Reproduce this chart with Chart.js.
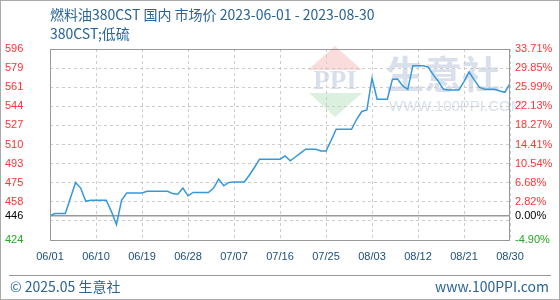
<!DOCTYPE html>
<html lang="zh-CN">
<head>
<meta charset="UTF-8">
<title>燃料油380CST 国内 市场价</title>
<script src="https://cdn.jsdelivr.net/npm/chart.js"></script>
<style>
  html, body { margin: 0; padding: 0; background: #fff; }
  #wrap { width: 560px; height: 300px; }
</style>
</head>
<body>
<div id="wrap"><canvas id="priceChart" width="560" height="300"></canvas></div>
<script>
// chart texts
const TITLE = '燃料油380CST 国内 市场价 2023-06-01 - 2023-08-30';
const SUBTITLE = '380CST;低硫';
const FOOT_LEFT = '© 2025.05 生意社';
const FOOT_RIGHT = 'www.100PPI.com';

// one label per day, 06/01 .. 08/30
const dates = [
  '06/01','06/02','06/03','06/04','06/05','06/06','06/07','06/08','06/09','06/10',
  '06/11','06/12','06/13','06/14','06/15','06/16','06/17','06/18','06/19','06/20',
  '06/21','06/22','06/23','06/24','06/25','06/26','06/27','06/28','06/29','06/30',
  '07/01','07/02','07/03','07/04','07/05','07/06','07/07','07/08','07/09','07/10',
  '07/11','07/12','07/13','07/14','07/15','07/16','07/17','07/18','07/19','07/20',
  '07/21','07/22','07/23','07/24','07/25','07/26','07/27','07/28','07/29','07/30',
  '07/31','08/01','08/02','08/03','08/04','08/05','08/06','08/07','08/08','08/09',
  '08/10','08/11','08/12','08/13','08/14','08/15','08/16','08/17','08/18','08/19',
  '08/20','08/21','08/22','08/23','08/24','08/25','08/26','08/27','08/28','08/29',
  '08/30'
];
const tickDates = ['06/01','06/10','06/19','06/28','07/07','07/16','07/25','08/03','08/12','08/21','08/30'];

// price (yuan/ton)
const prices = [
  446, 448, 448, 448, 462, 476, 471, 459, 460, 460,
  460, 460, 450, 438, 460, 466.5, 466.5, 466.5, 466.5, 468,
  468, 468, 468, 468, 466, 465.5, 471, 464, 467, 467,
  467, 467, 471, 479, 473, 476, 476.5, 476.5, 476.5, 482.5,
  489.5, 497, 497, 497, 497, 497, 500, 495.5, 499, 502.5,
  506, 506, 506, 504.4, 504.4, 514, 524, 524, 524, 524,
  533, 540, 541.4, 570, 551, 551, 551, 569, 569.3, 563,
  560, 581.3, 581.3, 581.3, 580, 573, 567, 560, 559.4, 559.4,
  559.4, 567, 575.6, 568.5, 562, 560, 560, 560, 558.5, 557.3,
  565.4
];

// y axis: base price and percent steps
const BASE = 446;
const pctTicks = [-4.90, -1.04, 0.00, 2.82, 6.68, 10.54, 14.41, 18.27, 22.13, 25.99, 29.85, 33.71];
const yTicks = pctTicks.map(p => BASE * (1 + p / 100));

function tickColor(v) {
  if (Math.abs(v - BASE) < 0.01) return '#000000';
  return v > BASE ? '#ff3333' : '#22aa22';
}

const frame = {
  id: 'frame',
  beforeDraw(chart) {
    const ctx = chart.ctx;
    ctx.save();
    ctx.fillStyle = '#ffffff';
    ctx.fillRect(0, 0, chart.width, chart.height);

    // watermark logo
    ctx.fillStyle = '#fadcdc';
    ctx.beginPath();
    ctx.moveTo(335, 46); ctx.lineTo(362, 70); ctx.lineTo(308, 70);
    ctx.closePath(); ctx.fill();
    ctx.fillStyle = '#dbf0de';
    ctx.beginPath();
    ctx.moveTo(309, 93); ctx.lineTo(362, 93); ctx.lineTo(335, 117);
    ctx.closePath(); ctx.fill();
    ctx.fillStyle = '#d9e0ec';
    ctx.font = 'bold 27px "Liberation Serif"';
    ctx.textAlign = 'center';
    ctx.textBaseline = 'middle';
    ctx.fillText('PPI', 335, 82);
    ctx.font = 'bold 38px "Noto Sans CJK SC"';
    ctx.textAlign = 'left';
    ctx.fillText('生意社', 386, 74);
    ctx.font = '15px "Liberation Sans"';
    ctx.fillText('WWW.100PPI.COM', 389, 107);
    ctx.restore();
  },
  afterDraw(chart) {
    const ctx = chart.ctx;
    const a = chart.chartArea;
    ctx.save();
    // plot box
    ctx.strokeStyle = '#999999';
    ctx.lineWidth = 1;
    ctx.strokeRect(a.left + 0.5, a.top + 0.5, a.right - a.left - 1, a.bottom - a.top);

    // titles
    ctx.fillStyle = '#2a6496';
    ctx.font = '14px "Noto Sans CJK SC"';
    ctx.textAlign = 'left';
    ctx.textBaseline = 'middle';
    ctx.fillText(TITLE, 50, 15);
    ctx.fillText(SUBTITLE, 50, 34);

    // footer
    ctx.beginPath();
    ctx.moveTo(9, 275.5); ctx.lineTo(551, 275.5);
    ctx.stroke();
    ctx.fillText(FOOT_LEFT, 10, 287);
    ctx.textAlign = 'right';
    ctx.fillText(FOOT_RIGHT, 549, 287);

    // outer border
    ctx.strokeStyle = '#aaaaaa';
    ctx.strokeRect(0.5, 0.5, chart.width - 1, chart.height - 1);
    ctx.restore();
  }
};

const ctx = document.getElementById('priceChart').getContext('2d');
new Chart(ctx, {
  type: 'line',
  data: {
    labels: dates,
    datasets: [{
      label: '380CST;低硫',
      data: prices,
      borderColor: '#3498db',
      borderWidth: 1.5,
      pointRadius: 0,
      tension: 0,
      yAxisID: 'y'
    }, {
      label: 'base',
      data: dates.map(() => BASE),
      borderColor: '#999999',
      borderWidth: 1.5,
      pointRadius: 0,
      yAxisID: 'y'
    }]
  },
  plugins: [frame],
  options: {
    responsive: false,
    animation: false,
    devicePixelRatio: 1,
    layout: { padding: { top: 49, left: 5, right: 0, bottom: 0 } },
    plugins: {
      legend: { display: false },
      tooltip: { enabled: false }
    },
    scales: {
      x: {
        offset: false,
        afterBuildTicks: s => { s.ticks = s.ticks.filter(t => tickDates.includes(dates[t.value])); },
        afterFit: s => { s.height = 60; },
        ticks: {
          autoSkip: false,
          maxRotation: 0,
          padding: 10,
          color: '#1d4e7e',
          font: { family: 'Liberation Sans', size: 11 }
        },
        grid: { color: '#cccccc', drawTicks: false },
        border: { display: false, dash: [3, 3] }
      },
      y: {
        position: 'left',
        min: yTicks[0],
        max: yTicks[yTicks.length - 1],
        afterBuildTicks: s => { s.ticks = yTicks.map(v => ({ value: v })); },
        afterFit: s => { s.width = 45; },
        ticks: {
          crossAlign: 'far',
          padding: 0,
          color: c => tickColor(c.tick.value),
          font: { family: 'Liberation Sans', size: 11 },
          callback: (v, i) => pctTicks[i] === -1.04 ? '' : String(Math.floor(v + 0.001))
        },
        grid: {
          color: c => (c.tick && Math.abs(c.tick.value - BASE) < 0.01) ? 'rgba(0,0,0,0)' : '#cccccc',
          drawTicks: false
        },
        border: { display: false, dash: [3, 3] }
      },
      y2: {
        position: 'right',
        min: yTicks[0],
        max: yTicks[yTicks.length - 1],
        afterBuildTicks: s => { s.ticks = yTicks.map(v => ({ value: v })); },
        afterFit: s => { s.width = 50; },
        ticks: {
          crossAlign: 'near',
          padding: 5,
          color: c => tickColor(c.tick.value),
          font: { family: 'Liberation Sans', size: 11 },
          callback: (v, i) => pctTicks[i] === -1.04 ? '' : pctTicks[i].toFixed(2) + '%'
        },
        grid: { display: false, drawTicks: false },
        border: { display: false }
      }
    }
  }
});
</script>
</body>
</html>
